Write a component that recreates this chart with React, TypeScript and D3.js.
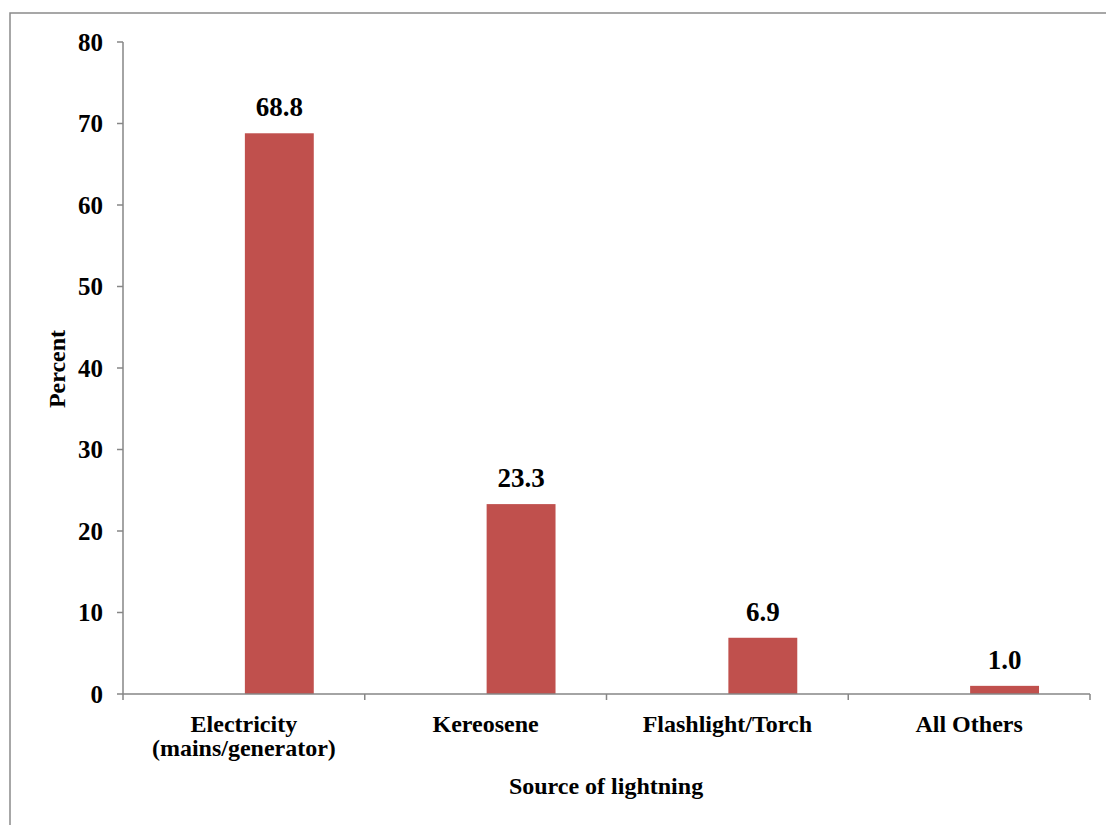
import React from "react";
import * as d3 from "d3";

const categories: string[][] = [
  ["Electricity", "(mains/generator)"],
  ["Kereosene"],
  ["Flashlight/Torch"],
  ["All Others"],
];
const values: number[] = [68.8, 23.3, 6.9, 1.0];
const yTicks: number[] = [0, 10, 20, 30, 40, 50, 60, 70, 80];

const W = 1106;
const H = 825;
const plot = { left: 123, right: 1090, top: 42, bottom: 694 };
const FONT = "'Liberation Serif', 'Times New Roman', serif";
const AXIS = "#868686";
const BAR = "#C0504D";

export default function App() {
  const x = d3
    .scaleBand<number>()
    .domain(categories.map((_, i) => i))
    .range([plot.left, plot.right])
    .padding(0);
  const y = d3.scaleLinear().domain([0, 80]).range([plot.bottom, plot.top]);
  const bw = x.bandwidth();
  const barW = bw * 0.285;
  const boundaries = categories.map((_, i) => x(i)!).concat([plot.right]);

  return (
    <div style={{ position: "absolute", left: 0, top: 0 }}>
      <svg width={W} height={H} style={{ display: "block", background: "#fff" }}>
        <rect x={10} y={13} width={W + 20} height={H + 20} fill="#fff" stroke="#8a8a8a" strokeWidth={1.5} />

        {/* bars */}
        {values.map((v, i) => {
          const cx = x(i)! + bw / 2;
          return (
            <g key={i}>
              <rect x={cx + 1} y={y(v)} width={barW} height={y(0) - y(v)} fill={BAR} />
              <text
                x={cx + 1 + barW / 2}
                y={y(v) - 17}
                textAnchor="middle"
                fontFamily={FONT}
                fontWeight="bold"
                fontSize={27}
                fill="#000"
              >
                {v.toFixed(1)}
              </text>
            </g>
          );
        })}

        {/* y axis */}
        <line x1={plot.left} x2={plot.left} y1={plot.top} y2={plot.bottom} stroke={AXIS} strokeWidth={1.5} />
        {yTicks.map((t) => (
          <g key={t}>
            <line x1={plot.left - 6} x2={plot.left} y1={y(t)} y2={y(t)} stroke={AXIS} strokeWidth={1.5} />
            <text
              x={103}
              y={y(t)}
              dy="0.35em"
              textAnchor="end"
              fontFamily={FONT}
              fontWeight="bold"
              fontSize={25}
              fill="#000"
            >
              {t}
            </text>
          </g>
        ))}

        {/* x axis */}
        <line x1={plot.left} x2={plot.right} y1={plot.bottom} y2={plot.bottom} stroke={AXIS} strokeWidth={1.5} />
        {boundaries.map((bx, i) => (
          <line key={i} x1={bx} x2={bx} y1={plot.bottom} y2={plot.bottom + 6} stroke={AXIS} strokeWidth={1.5} />
        ))}
        {categories.map((lines, i) => (
          <text
            key={i}
            x={x(i)! + bw / 2}
            y={732}
            textAnchor="middle"
            fontFamily={FONT}
            fontWeight="bold"
            fontSize={24}
            fill="#000"
          >
            {lines.map((l, j) => (
              <tspan key={j} x={x(i)! + bw / 2} dy={j === 0 ? 0 : 24}>
                {l}
              </tspan>
            ))}
          </text>
        ))}

        {/* axis titles */}
        <text x={606} y={794} textAnchor="middle" fontFamily={FONT} fontWeight="bold" fontSize={24} fill="#000">
          Source of lightning
        </text>
        <text
          transform="translate(65,369) rotate(-90)"
          textAnchor="middle"
          fontFamily={FONT}
          fontWeight="bold"
          fontSize={24}
          fill="#000"
        >
          Percent
        </text>
      </svg>
    </div>
  );
}
